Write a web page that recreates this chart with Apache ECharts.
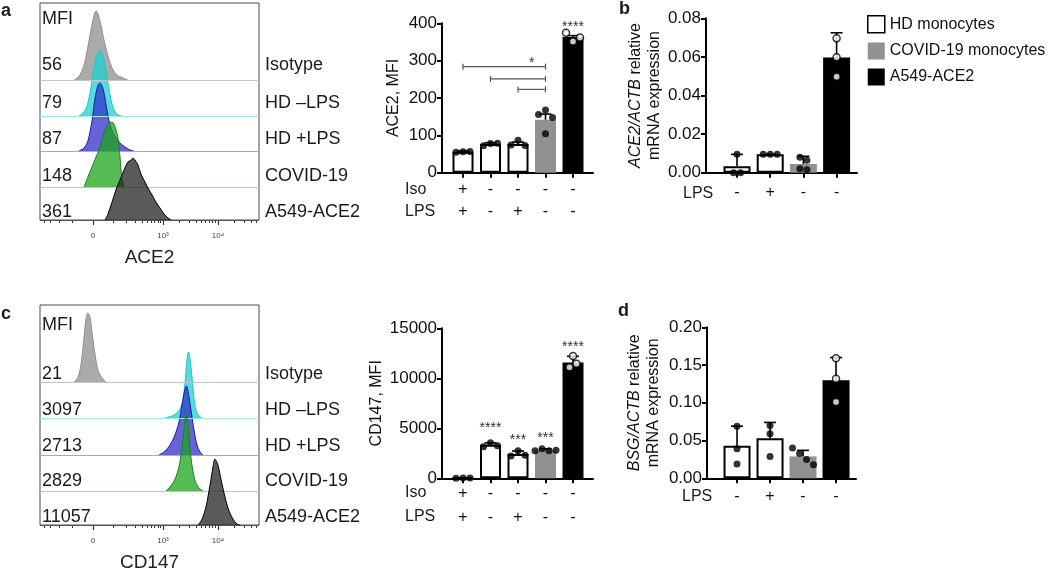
<!DOCTYPE html>
<html>
<head>
<meta charset="utf-8">
<script src="https://cdn.jsdelivr.net/npm/echarts@6/dist/echarts.min.js"></script>
<style>
  html, body { margin: 0; padding: 0; background: #fff; }
  #chart { width: 1050px; height: 571px; }
</style>
</head>
<body>
<div id="chart"></div>
<script>
const FONT = '"Liberation Sans", Arial, Helvetica, sans-serif';

// ---------- flow histograms (panels a, c) ----------
const sampleNames = ['Isotype', 'HD \u2013LPS', 'HD +LPS', 'COVID-19', 'A549-ACE2'];
const ace2Mfi = [56, 79, 87, 148, 361];
const cd147Mfi = [21, 3097, 2713, 2829, 11057];

// [channel on 0-1024 display scale, count]
const ace2Hist = [
  [[159,0],[168,1],[187,5],[206,15],[224,33],[238,50],[252,64],[262,69],[271,66],[285,55],[299,40],[318,24],[337,12],[360,5],[388,2],[411,0]],
  [[182,0],[201,3],[220,10],[238,28],[252,48],[267,62],[281,66],[295,60],[309,44],[323,26],[337,12],[351,4],[365,1],[383,0]],
  [[182,0],[206,3],[224,10],[243,30],[257,52],[271,66],[281,68],[295,62],[309,46],[323,30],[337,20],[355,13],[374,8],[397,4],[421,1],[440,0]],
  [[206,0],[224,10],[243,20],[262,30],[281,40],[299,54],[318,62],[337,65],[351,60],[365,48],[374,30],[383,8],[393,0]],
  [[304,0],[318,6],[337,18],[355,30],[374,40],[393,50],[411,58],[426,60],[435,62],[444,60],[458,55],[472,46],[486,40],[505,32],[524,25],[542,18],[561,12],[580,6],[599,2],[613,0]]
];
const cd147Hist = [
  [[159,0],[178,5],[192,18],[206,45],[215,63],[224,69],[234,65],[243,50],[257,28],[271,12],[290,4],[309,0]],
  [[585,0],[617,2],[645,6],[664,14],[678,35],[687,58],[694,66],[701,60],[711,40],[720,20],[729,8],[743,2],[758,0]],
  [[556,0],[585,4],[608,10],[631,20],[650,33],[664,50],[678,66],[685,69],[692,64],[706,45],[720,25],[734,10],[748,3],[762,0]],
  [[589,0],[608,4],[627,10],[645,20],[659,35],[673,60],[683,76],[692,66],[701,42],[715,20],[729,8],[748,2],[762,0]],
  [[739,0],[758,6],[776,18],[795,40],[809,58],[818,66],[832,60],[846,46],[865,28],[884,14],[902,6],[921,1],[935,0]]
];
const majorTicks = [248, 575, 832];
const majorText = ['0', '10\u00b3', '10\u2074'];

// ---------- bar panels ----------
const groupNames = ['HD monocytes', 'COVID-19 monocytes', 'A549-ACE2'];

const flowGroups = [0, 0, 0, 1, 2];
const flowIso = ['+', '-', '-', '-', '-'];
const flowLps = ['+', '-', '+', '-', '-'];

const ace2BarMean = [56, 77, 77, 142, 363];
const ace2BarErr = [58, 80, 82, 157, 367];
const ace2BarPts = [[55, 56, 57], [72, 78, 79], [74, 87, 73], [156, 168, 148, 104], [375, 351, 362]];
const ace2Brackets = [[1, 4, 284], [2, 4, 251], [3, 4, 223]];
const ace2Stars = [[3.5, 292, '*'], [5, 390, '****']];

const cd147BarMean = [20, 3350, 2420, 2800, 11580];
const cd147BarErr = [25, 3550, 2730, 2950, 12200];
const cd147BarPts = [[15, 20, 25], [3160, 3560, 3260], [2230, 2760, 2300], [2750, 2950, 2750, 2800], [11100, 12230, 11450]];
const cd147Stars = [[2, 5030, '****'], [3, 3860, '***'], [4, 4030, '***'], [5, 13130, '****']];

const qpcrGroups = [0, 0, 1, 2];
const qpcrLps = ['-', '+', '-', '-'];

const ace2RnaMean = [0.0033, 0.0095, 0.0045, 0.0597];
const ace2RnaErr = [0.0095, 0.0095, 0.0085, 0.0725];
const ace2RnaPts = [[0.0095, 0, 0], [0.0095, 0.0095, 0.0095], [0.008, 0.0065, 0.002, 0.0015], [0.0696, 0.0598, 0.0497]];

const bsgRnaMean = [0.043, 0.053, 0.029, 0.130];
const bsgRnaErr = [0.069, 0.074, 0.037, 0.160];
const bsgRnaPts = [[0.069, 0.039, 0.019], [0.070, 0.059, 0.029], [0.040, 0.033, 0.025, 0.018], [0.159, 0.132, 0.101]];

// ---------- styles ----------
const histColors = [
  { fill: '#8d8d8d', line: '#8f8f8f', base: '#c4c4c4' },
  { fill: '#1cd1d1', line: '#22c4c4', base: '#9eeaea' },
  { fill: '#3030c9', line: '#1a1a9a', base: '#a4a4e2' },
  { fill: '#1ca41c', line: '#1f7f1f', base: '#a6d8a6' },
  { fill: '#232323', line: '#000000', base: '#555555' }
];
const groupStyles = [
  { color: '#ffffff', borderColor: '#000', borderWidth: 2 },
  { color: '#919191' },
  { color: '#000000' }
];

const minorTicks = [];
[-400, -300, -200, -100, 100, 200, 300, 400, 500, 600, 700, 800, 900].forEach(v => minorTicks.push(248 + 109 * Math.asinh(v / 100)));
for (let k = 2; k <= 9; k++) minorTicks.push(575 + 257 * Math.log10(k));
for (let k = 2; k <= 5; k++) minorTicks.push(832 + 257 * Math.log10(k));

const option = {
  animation: false,
  backgroundColor: '#fff',
  textStyle: { fontFamily: FONT, color: '#111' },
  grid: [], xAxis: [], yAxis: [], series: [], graphic: [],
  legend: {
    left: 862, top: 10, orient: 'vertical', itemWidth: 17, itemHeight: 17, itemGap: 9,
    selectedMode: false,
    textStyle: { fontSize: 16, color: '#111', fontFamily: FONT },
    data: groupNames.map((name, g) => ({ name, icon: 'rect', itemStyle: g === 0 ? { color: '#fff', borderColor: '#000', borderWidth: 1.5 } : { color: groupStyles[g].color } }))
  }
};

function text(x, y, str, size, opts) {
  opts = opts || {};
  return {
    type: 'text', x, y, silent: true,
    style: {
      text: str, fontSize: size, fontFamily: FONT, fontWeight: opts.bold ? 'bold' : 'normal',
      fill: '#1a1a1a', align: opts.align || 'left', verticalAlign: 'middle',
      textAlign: opts.align || 'left', textVerticalAlign: 'middle'
    }
  };
}

function addHist(box, traces, mfi, xName) {
  const gi = option.grid.length;
  option.grid.push({ left: box.left, top: box.top, width: box.width, height: box.height, show: true,
    borderColor: '#4a4a4a', borderWidth: 1, backgroundColor: 'transparent', containLabel: false, outerBoundsMode: 'none' });
  const xi = option.xAxis.length;
  option.xAxis.push({
    gridIndex: gi, type: 'value', min: 0, max: 1024, position: 'bottom',
    name: xName, nameLocation: 'middle', nameGap: 28, nameTextStyle: { fontSize: 19, color: '#222' },
    axisLine: { show: false, onZero: false }, splitLine: { show: false },
    axisTick: { show: true, customValues: majorTicks, length: 5, lineStyle: { color: '#333', width: 1.2 } },
    axisLabel: { customValues: majorTicks, fontSize: 8, color: '#444', margin: 12,
      formatter: v => majorText[majorTicks.findIndex(t => Math.abs(t - v) < 1)] }
  });
  option.xAxis.push({
    gridIndex: gi, type: 'value', min: 0, max: 1024, position: 'bottom',
    axisLine: { show: false, onZero: false }, splitLine: { show: false }, axisLabel: { show: false },
    axisTick: { show: true, customValues: minorTicks, length: 3, lineStyle: { color: '#333', width: 1 } }
  });
  traces.forEach((pts, k) => {
    const yi = option.yAxis.length;
    option.yAxis.push({ gridIndex: gi, type: 'value', show: false, min: -(box.height - box.bases[k]), max: box.bases[k] });
    option.series.push({
      type: 'line', xAxisIndex: xi, yAxisIndex: yi, data: pts, smooth: 0.3, symbol: 'none', silent: true, z: 2 + k,
      lineStyle: { color: histColors[k].line, width: 1 },
      areaStyle: { color: histColors[k].fill, opacity: 0.75 },
      markLine: { silent: true, symbol: ['none', 'none'], label: { show: false },
        lineStyle: { color: histColors[k].base, width: 1, type: 'solid' }, data: [{ yAxis: 0 }] }
    });
  });
  option.graphic.push(text(box.left + 2, box.top + box.mfiY, 'MFI', 18));
  mfi.forEach((m, k) => {
    option.graphic.push(text(box.left + 2, box.top + box.rows[k], String(m), 18));
    option.graphic.push(text(box.left + box.width + 6, box.top + box.rows[k], sampleNames[k], 18));
  });
}

function swarm(vals, pxPerY, size) {
  const order = vals.map((v, i) => i).sort((a, b) => vals[a] - vals[b]);
  const rows = [];
  let cur = [];
  order.forEach((i, n) => {
    if (n && (vals[i] - vals[order[n - 1]]) * pxPerY >= size) { rows.push(cur); cur = []; }
    cur.push(i);
  });
  rows.push(cur);
  const off = vals.map(() => 0);
  rows.forEach(r => { r.sort((a, b) => a - b); r.forEach((i, j) => { off[i] = (j - (r.length - 1) / 2) * size; }); });
  return off;
}

function addBars(box, cfg) {
  const gi = option.grid.length;
  option.grid.push({ left: box.left, top: box.top, width: box.width, height: box.height, containLabel: false, outerBoundsMode: 'none' });
  const xi = option.xAxis.length, yi = option.yAxis.length;
  const pos = cfg.mean.map((_, i) => i + 1);
  option.xAxis.push({
    gridIndex: gi, type: 'value', min: box.x[0], max: box.x[1],
    axisLine: { onZero: false, lineStyle: { color: '#000', width: 2 } }, splitLine: { show: false },
    axisTick: { customValues: pos, length: 5, lineStyle: { color: '#000', width: 2 } },
    axisLabel: { customValues: pos, formatter: v => cfg.xLabel(Math.round(v) - 1), fontSize: 16, lineHeight: cfg.lineH, margin: cfg.margin, color: '#111' }
  });
  option.yAxis.push({
    gridIndex: gi, type: 'value', min: 0, max: cfg.max, interval: cfg.interval,
    name: cfg.yName, nameLocation: 'middle', nameRotate: 90, nameGap: cfg.nameGap,
    nameTextStyle: { fontSize: 16, color: '#111', lineHeight: 19, rich: { i: { fontStyle: 'italic', fontSize: 16, color: '#111', fontFamily: FONT } } },
    axisLine: { show: true, onZero: false, lineStyle: { color: '#000', width: 2 } },
    axisTick: { show: true, length: 5, lineStyle: { color: '#000', width: 2 } },
    axisLabel: { fontSize: 17, color: '#111', margin: 5, formatter: cfg.yFmt }, splitLine: { show: false }
  });
  const pxPerX = box.width / (box.x[1] - box.x[0]);
  const pxPerY = box.height / cfg.max;

  groupNames.forEach((name, g) => {
    option.series.push({
      type: 'bar', name, xAxisIndex: xi, yAxisIndex: yi, barWidth: cfg.barWidth, barGap: '-100%', silent: true, z: 3,
      itemStyle: groupStyles[g],
      data: cfg.mean.map((m, i) => cfg.groups[i] === g ? [i + 1, m] : null).filter(d => d)
    });
  });

  option.series.push({
    type: 'custom', xAxisIndex: xi, yAxisIndex: yi, z: 4, silent: true, clip: false,
    data: cfg.mean.map((m, i) => [i + 1, m, cfg.err[i]]),
    renderItem(params, api) {
      const a = api.coord([api.value(0), api.value(1)]);
      const b = api.coord([api.value(0), api.value(2)]);
      const st = { stroke: '#000', lineWidth: 1.6 };
      return { type: 'group', children: [
        { type: 'line', shape: { x1: a[0], y1: a[1], x2: b[0], y2: b[1] }, style: st },
        { type: 'line', shape: { x1: b[0] - 6, y1: b[1], x2: b[0] + 6, y2: b[1] }, style: st }
      ] };
    }
  });

  const dots = [];
  cfg.pts.forEach((vals, i) => {
    const off = swarm(vals, pxPerY, 7);
    vals.forEach((v, j) => {
      const item = { value: [i + 1 + off[j] / pxPerX, v] };
      if (cfg.groups[i] === 2) item.itemStyle = { color: '#fff', borderColor: '#000', borderWidth: 1.5 };
      dots.push(item);
    });
  });
  option.series.push({
    type: 'scatter', xAxisIndex: xi, yAxisIndex: yi, z: 5, silent: true, clip: false,
    symbol: 'circle', symbolSize: 7, itemStyle: { color: '#000' }, data: dots
  });

  if (cfg.brackets || cfg.stars) {
    const brackets = cfg.brackets || [];
    const stars = cfg.stars || [];
    option.series.push({
      type: 'custom', xAxisIndex: xi, yAxisIndex: yi, z: 6, silent: true, clip: false,
      data: brackets.map(b => [b[0], b[1], b[2], 0]).concat(stars.map((s, k) => [s[0], s[0], s[1], k + 1])),
      renderItem(params, api) {
        const a = api.coord([api.value(0), api.value(2)]);
        const b = api.coord([api.value(1), api.value(2)]);
        const starIdx = api.value(3);
        if (starIdx > 0) {
          return { type: 'text', x: a[0], y: a[1],
            style: { text: stars[starIdx - 1][2], fontSize: 14, fontFamily: FONT, fill: '#333', align: 'center', verticalAlign: 'middle', textAlign: 'center', textVerticalAlign: 'middle' } };
        }
        const st = { stroke: '#555', lineWidth: 1.2 };
        return { type: 'group', children: [
          { type: 'line', shape: { x1: a[0], y1: a[1], x2: b[0], y2: b[1] }, style: st },
          { type: 'line', shape: { x1: a[0], y1: a[1] - 3, x2: a[0], y2: a[1] + 3 }, style: st },
          { type: 'line', shape: { x1: b[0], y1: b[1] - 3, x2: b[0], y2: b[1] + 3 }, style: st }
        ] };
      }
    });
  }
}

// ---------- panels ----------
addHist({ left: 40, top: 3, width: 219, height: 217, bases: [77, 113, 148, 184, 217], mfiY: 16.3, rows: [62.5, 100.5, 136.5, 173, 208.7] },
  ace2Hist, ace2Mfi, 'ACE2');
addHist({ left: 40, top: 305, width: 219, height: 220, bases: [77, 113, 150, 186, 220], mfiY: 20, rows: [69.5, 104.7, 141.3, 176, 211.7] },
  cd147Hist, cd147Mfi, 'CD147');

addBars({ left: 442, top: 23.3, width: 151, height: 149.4, x: [0.236, 5.727] }, {
  mean: ace2BarMean, err: ace2BarErr, pts: ace2BarPts, groups: flowGroups,
  max: 400, interval: 100, yName: 'ACE2, MFI', nameGap: 39, barWidth: 21,
  xLabel: i => flowIso[i] + '\n' + flowLps[i], lineH: 22, margin: 6, yFmt: v => String(v),
  brackets: ace2Brackets, stars: ace2Stars
});
addBars({ left: 442, top: 328.3, width: 151, height: 150, x: [0.236, 5.727] }, {
  mean: cd147BarMean, err: cd147BarErr, pts: cd147BarPts, groups: flowGroups,
  max: 15000, interval: 5000, yName: 'CD147, MFI', nameGap: 54, barWidth: 21,
  xLabel: i => flowIso[i] + '\n' + flowLps[i], lineH: 24, margin: 3, yFmt: v => String(v),
  stars: cd147Stars
});
addBars({ left: 706, top: 18.3, width: 151, height: 154.4, x: [0.066, 4.614] }, {
  mean: ace2RnaMean, err: ace2RnaErr, pts: ace2RnaPts, groups: qpcrGroups,
  max: 0.08, interval: 0.02, yName: '{i|ACE2/ACTB} relative\nmRNA expression', nameGap: 41, barWidth: 27,
  xLabel: i => qpcrLps[i], lineH: 22, margin: 9, yFmt: v => v.toFixed(2)
});
addBars({ left: 707, top: 327.3, width: 149, height: 151, x: [0.09, 4.605] }, {
  mean: bsgRnaMean, err: bsgRnaErr, pts: bsgRnaPts, groups: qpcrGroups,
  max: 0.2, interval: 0.05, yName: '{i|BSG/ACTB} relative\nmRNA expression', nameGap: 44, barWidth: 27,
  xLabel: i => qpcrLps[i], lineH: 22, margin: 7, yFmt: v => v.toFixed(2)
});

// row captions and panel letters
option.graphic.push(text(405, 190, 'Iso', 16), text(405, 212, 'LPS', 16));
option.graphic.push(text(405, 493, 'Iso', 16), text(405, 517, 'LPS', 16));
option.graphic.push(text(683, 193.3, 'LPS', 16), text(682, 496.7, 'LPS', 16));
option.graphic.push(text(1, 11, 'a', 18, { bold: true }), text(619, 9.5, 'b', 18, { bold: true }),
  text(1, 314.5, 'c', 18, { bold: true }), text(618, 311, 'd', 18, { bold: true }));

const chart = echarts.init(document.getElementById('chart'));
chart.setOption(option);
</script>
</body>
</html>
